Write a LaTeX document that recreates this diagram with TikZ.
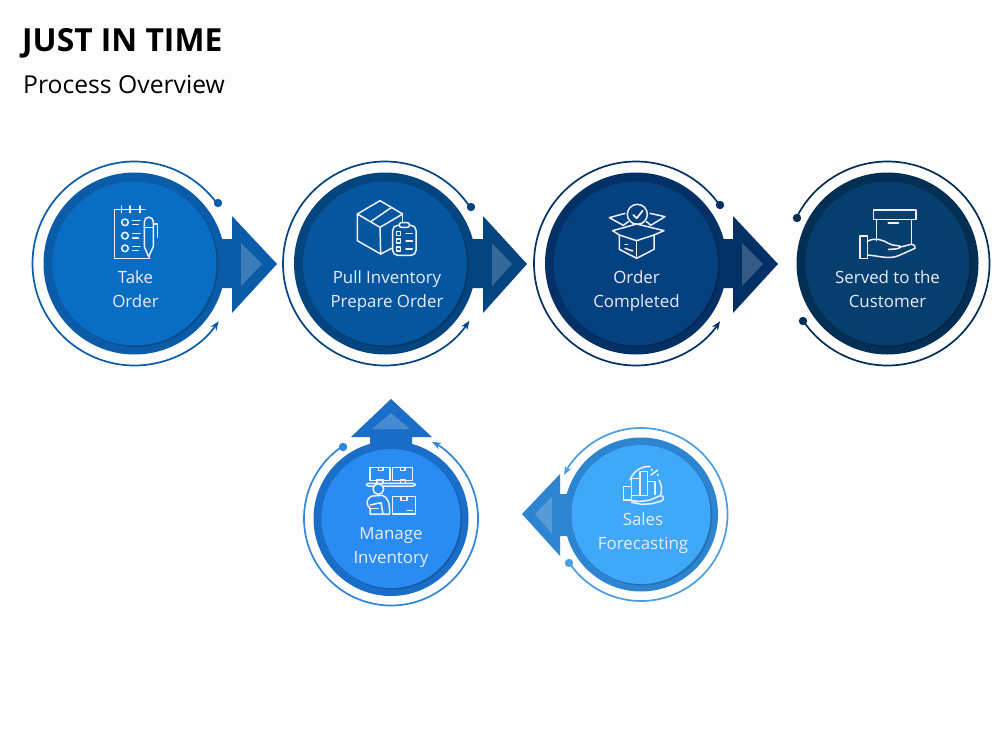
\documentclass[tikz,border=0pt]{standalone}
\usepackage{fontspec}
\setmainfont{Open Sans}
\usetikzlibrary{arrows.meta}
\definecolor{bgc}{HTML}{FDFDFE}
\definecolor{da}{HTML}{0B5CA8}\definecolor{ia}{HTML}{0A6DC4}\definecolor{sa}{HTML}{084E8E}
\definecolor{db}{HTML}{04447F}\definecolor{ib}{HTML}{05569E}\definecolor{sb}{HTML}{03386B}
\definecolor{dc}{HTML}{033165}\definecolor{ic}{HTML}{05407F}\definecolor{sc}{HTML}{022852}
\definecolor{dd}{HTML}{032F55}\definecolor{id}{HTML}{063F6E}\definecolor{sd}{HTML}{022645}
\definecolor{de}{HTML}{1A6EC8}\definecolor{ie}{HTML}{2A8BF2}\definecolor{se}{HTML}{155DAB}
\definecolor{df}{HTML}{2D84D0}\definecolor{if}{HTML}{3FA8F9}\definecolor{sf}{HTML}{2570B5}
\definecolor{re}{HTML}{2F86DA}\definecolor{rf}{HTML}{4A9FE2}
\tikzset{
  disc/.style={circle,draw=none,inner sep=0pt,minimum size=#1},
  ringline/.style={line width=1.7pt},
  ringtip/.style={ringline,-{Stealth[length=9pt,width=7pt]}},
  label text/.style={text=white!92!blue,align=center,font=\fontsize{16.9}{24}\selectfont},
  icon/.style={draw=white!94!blue,line width=1.5pt,line join=round,line cap=round},
  inner tri/.style={fill=white,fill opacity=.2,draw=none}
}
% name, x, y, Rdark, Rface, dark, shadow, face
\newcommand{\procdisc}[8]{%
  \node[disc=#4*2pt,fill=#6] (#1) at (#2,#3) {};
  \node[disc=#5*2pt,fill=#7] (#1shade) at (#2+1.6,#3+1.6) {};
  \node[disc=#5*2pt,fill=#8] (#1face) at (#2,#3) {};
}
\begin{document}
\begin{tikzpicture}[x=1pt,y=-1pt]
\useasboundingbox (0,0) rectangle (1000,744);
\fill[bgc] (0,0) rectangle (1000,744);

\node[anchor=base west,inner sep=0pt,font=\fontsize{31.8}{34}\selectfont\bfseries] (title) at (22,51) {JUST IN TIME};
\node[anchor=base west,inner sep=0pt,font=\fontsize{24.7}{30}\selectfont] (subtitle) at (23,93) {Process Overview};

% --- block arrows (under the discs)
\fill[da] (215,239) -- (232,239) -- (232,216) -- (277,264) -- (232,313) -- (232,288) -- (215,288) -- cycle;
\fill[inner tri] (241,243) -- (262,264) -- (241,286) -- cycle;
\fill[db] (465,239) -- (483,239) -- (483,216) -- (527,264) -- (483,313) -- (483,288) -- (465,288) -- cycle;
\fill[inner tri] (492,243) -- (512,264) -- (492,286) -- cycle;
\fill[dc] (716,239) -- (733,239) -- (733,216) -- (778,264) -- (733,313) -- (733,288) -- (716,288) -- cycle;
\fill[inner tri] (742,243) -- (763,264) -- (742,286) -- cycle;
\fill[de] (370,460) -- (370,437) -- (351,437) -- (391,399) -- (432,437) -- (412,437) -- (412,460) -- cycle;
\fill[inner tri] (391,413) -- (410,429) -- (372,429) -- cycle;
\fill[df] (580,494) -- (560,494) -- (560,474) -- (522,514) -- (560,556) -- (560,536) -- (580,536) -- cycle;
\fill[inner tri] (535,514) -- (552,497) -- (552,534) -- cycle;

% --- discs
\procdisc{ca}{134.5}{263.5}{91}{82}{da}{sa}{ia}
\procdisc{cb}{385}{263.5}{91}{82}{db}{sb}{ib}
\procdisc{cc}{636}{263.5}{91}{82}{dc}{sc}{ic}
\procdisc{cd}{887.5}{263.5}{91}{82}{dd}{sd}{id}
\procdisc{ce}{391}{518.5}{77.5}{69.5}{de}{se}{ie}
\procdisc{cf}{641}{514.5}{77}{69.5}{df}{sf}{if}

% --- rings
\draw[ringtip,draw=da] (ca) ++(-36:102) arc[start angle=-36,end angle=-325.5,radius=102];
\fill[da] (218,203) circle (4.2);
\draw[ringtip,draw=db] (cb) ++(-33.3:102) arc[start angle=-33.3,end angle=-325.8,radius=102];
\fill[db] (471,207) circle (4.2);
\draw[ringtip,draw=dc] (cc) ++(-34.9:102) arc[start angle=-34.9,end angle=-325.5,radius=102];
\fill[dc] (720,205) circle (4.2);
\draw[ringline,draw=dd] (cd) ++(206.7:102) arc[start angle=206.7,end angle=505.8,radius=102];
\fill[dd] (797,218) circle (4.2);
\fill[dd] (803,321) circle (4.2);
\draw[ringtip,draw=re] (ce) ++(236.1:87) arc[start angle=236.1,end angle=-61.8,radius=87];
\fill[re] (343,447) circle (4.2);
\draw[ringtip,draw=rf] (cf) ++(146:86.5) arc[start angle=146,end angle=-152.8,radius=86.5];
\fill[rf] (569,563) circle (4.2);

% --- labels
\node[label text] (la) at (135.5,289.5) {Take\\Order};
\node[label text] (lb) at (387,291.5) {Pull Inventory\\Prepare Order};
\node[label text] (lc) at (636.5,291.5) {Order\\Completed};
\node[label text] (ld) at (887.5,289.5) {Served to the\\Customer};
\node[label text] (le) at (391,547.5) {Manage\\Inventory};
\node[label text] (lf) at (643,533.5) {Sales\\Forecasting};

% --- icon 1: notepad and pen
\begin{scope}[shift={(20,150)},scale=1/3]
\draw[icon] (375,178) -- (283,178) -- (283,325) -- (388,325) -- (388,310);
\foreach \x in {305,330,360} \draw[icon] (\x,168) -- (\x,188);
\foreach \y in {217,257,295} {
  \draw[icon] (315,\y) circle (10);
  \draw[icon] (338,\y-6) -- (360,\y-6);
  \draw[icon] (338,\y+7) -- (355,\y+7);
}
\draw[icon,fill=ia] (373,215) arc[start angle=180,end angle=360,radius=13.5] -- (400,290) -- (386,320) -- (373,290) -- cycle;
\draw[icon] (373,232) -- (400,232);
\draw[icon] (400,222) -- (412,222) -- (412,262);
\end{scope}

% --- icon 2: box and clipboard
\begin{scope}[shift={(280,150)},scale=1/3]
\draw[icon] (300,152) -- (368,192) -- (300,232) -- (232,192) -- cycle;
\draw[icon] (232,192) -- (232,272) -- (302,312) -- (335,295);
\draw[icon] (300,232) -- (302,312);
\draw[icon] (368,192) -- (368,220);
\draw[icon] (272,215) -- (335,172);
\draw[icon,rounded corners=5pt] (338,226) rectangle (408,316);
\draw[icon,fill=ib,rounded corners=2pt] (358,218) rectangle (388,232);
\foreach \y in {250,273,297} {
  \draw[icon] (350,\y-6) rectangle (362,\y+6);
  \draw[icon] (378,\y) -- (397,\y);
}
\end{scope}

% --- icon 3: open box with check
\begin{scope}[shift={(530,150)},scale=1/3]
\draw[icon] (322,193) circle (30);
\draw[icon,line width=1.8pt] (310,195) -- (320,205) -- (338,182);
\draw[icon] (285,190) -- (238,203) -- (280,226) -- (295,215);
\draw[icon] (360,190) -- (405,200) -- (362,226) -- (350,215);
\draw[icon,fill=ic] (320,222) -- (402,242) -- (372,255) -- (320,272) -- (268,255) -- (248,242) -- cycle;
\draw[icon] (268,255) -- (268,298) -- (320,325) -- (372,298) -- (372,255);
\draw[icon] (320,272) -- (320,325);
\draw[icon] (285,283) -- (293,283);
\draw[icon] (285,295) -- (308,303);
\end{scope}

% --- icon 4: hand holding a box
\begin{scope}[shift={(780,150)},scale=1/3]
\draw[icon] (280,180) rectangle (408,208);
\draw[icon] (290,208) -- (290,272);
\draw[icon] (395,208) -- (395,282);
\draw[icon,line width=1.9pt] (325,220) -- (355,220);
\draw[icon] (240,258) rectangle (262,325);
\draw[icon] (262,274) .. controls (285,262) and (305,268) .. (325,280) .. controls (340,288) and (350,285) .. (360,288) .. controls (365,296) and (345,298) .. (325,298);
\draw[icon] (262,315) .. controls (300,318) and (330,330) .. (360,315) -- (405,295) .. controls (408,285) and (395,280) .. (385,285) -- (358,292);
\end{scope}

% --- icon 5: worker and shelves
\begin{scope}[shift={(295,390)},scale=1/3]
\draw[icon] (225,232) rectangle (285,272);
\draw[icon] (293,232) rectangle (352,272);
\draw[icon] (250,232) -- (250,242) -- (264,242) -- (264,232);
\draw[icon] (316,232) -- (316,242) -- (330,242) -- (330,232);
\draw[icon] (246,280) -- (246,268) -- (264,268) -- (264,280);
\draw[icon] (316,280) -- (316,268) -- (332,268) -- (332,280);
\draw[icon,rounded corners=2pt] (215,280) rectangle (360,288);
\draw[icon,fill=ie] (250,297) circle (16);
\draw[icon] (225,372) -- (225,355) .. controls (212,345) and (212,325) .. (232,318) -- (262,316) .. controls (280,322) and (284,340) .. (284,372) -- cycle;
\draw[icon] (225,345) -- (258,338) -- (264,372);
\draw[icon] (225,356) -- (250,356);
\draw[icon] (292,320) rectangle (362,372);
\draw[icon] (318,320) -- (318,332) -- (336,332) -- (336,320);
\draw[icon] (336,362) -- (352,362);
\end{scope}

% --- icon 6: chart on hand
\begin{scope}[shift={(515,425)},scale=1/3]
\draw[icon] (345,165) .. controls (355,138) and (380,122) .. (405,125);
\draw[icon] (432,165) .. controls (440,180) and (442,195) .. (437,210);
\draw[icon] (325,185) rectangle (350,225);
\draw[icon] (350,160) rectangle (375,212);
\draw[icon] (375,140) rectangle (398,212);
\draw[icon] (398,170) -- (420,170) -- (420,208);
\draw[icon] (408,150) -- (428,135);
\fill[white] (410,135) circle (3.5);
\fill[white] (428,150) circle (3.5);
\draw[icon] (325,225) .. controls (345,222) and (360,232) .. (385,228) -- (405,225) -- (435,212) .. controls (448,212) and (448,222) .. (440,228) -- (410,236) -- (380,238) -- (350,232);
\end{scope}
\end{tikzpicture}
\end{document}
